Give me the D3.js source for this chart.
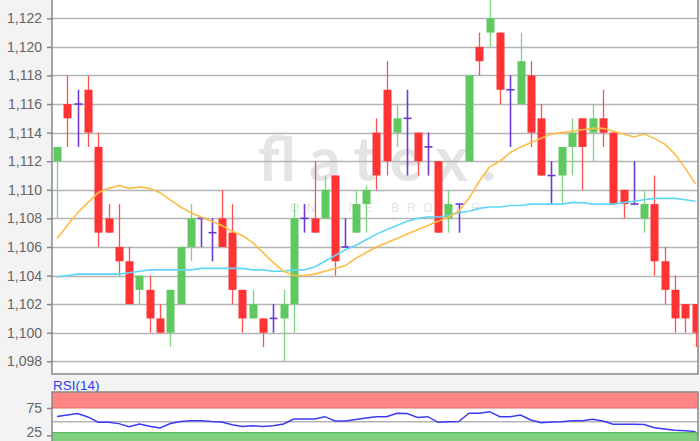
<!DOCTYPE html>
<html><head><meta charset="utf-8">
<script src="https://cdn.jsdelivr.net/npm/d3@7"></script>
<style>html,body{margin:0;padding:0;background:#f3f3f3;}svg{display:block;font-family:"Liberation Sans",Arial,sans-serif;}</style>
</head><body>
<svg id="c" width="700" height="441"></svg>
<script>
// ---- data ----
const opens  = [1.112,1.116,1.116,1.117,1.113,1.108,1.106,1.105,1.103,1.103,1.101,1.100,1.102,1.106,1.108,1.107,1.108,1.107,1.103,1.101,1.101,1.101,1.101,1.102,1.108,1.108,1.108,1.111,1.106,1.107,1.109,1.114,1.117,1.114,1.115,1.114,1.113,1.112,1.108,1.109,1.112,1.120,1.121,1.121,1.117,1.116,1.118,1.115,1.111,1.111,1.113,1.115,1.114,1.115,1.114,1.110,1.109,1.108,1.109,1.105,1.103,1.102,1.102];
const highs  = [1.113,1.118,1.117,1.118,1.114,1.109,1.109,1.106,1.104,1.104,1.102,1.103,1.106,1.109,1.108,1.108,1.110,1.109,1.103,1.103,1.101,1.102,1.103,1.109,1.109,1.112,1.111,1.111,1.108,1.110,1.1103,1.115,1.119,1.116,1.117,1.114,1.114,1.112,1.110,1.109,1.118,1.121,1.1235,1.121,1.118,1.121,1.119,1.116,1.112,1.113,1.115,1.115,1.116,1.117,1.114,1.110,1.112,1.110,1.111,1.106,1.104,1.102,1.102];
const lows   = [1.108,1.113,1.113,1.113,1.106,1.107,1.104,1.102,1.102,1.100,1.100,1.099,1.102,1.105,1.106,1.105,1.106,1.102,1.100,1.101,1.099,1.100,1.098,1.100,1.107,1.107,1.108,1.104,1.106,1.107,1.107,1.110,1.111,1.113,1.111,1.111,1.111,1.107,1.107,1.107,1.112,1.118,1.120,1.116,1.113,1.116,1.113,1.111,1.109,1.109,1.111,1.110,1.112,1.113,1.109,1.108,1.109,1.107,1.104,1.102,1.100,1.100,1.099];
const closes = [1.113,1.115,1.116,1.114,1.107,1.107,1.105,1.102,1.104,1.101,1.100,1.103,1.106,1.108,1.108,1.107,1.106,1.103,1.101,1.102,1.100,1.101,1.102,1.108,1.108,1.107,1.110,1.105,1.106,1.109,1.110,1.111,1.112,1.115,1.115,1.112,1.113,1.107,1.109,1.109,1.118,1.119,1.122,1.117,1.117,1.119,1.114,1.111,1.111,1.113,1.114,1.113,1.115,1.114,1.109,1.109,1.109,1.109,1.105,1.103,1.101,1.101,1.100];
const maShort = [1.1066,1.1075,1.1084,1.1091,1.1098,1.1101,1.1103,1.1101,1.1102,1.1101,1.1098,1.1093,1.1088,1.1084,1.1081,1.1078,1.1075,1.1071,1.1068,1.1063,1.1056,1.1049,1.1043,1.1040,1.1040,1.1041,1.1043,1.1045,1.1047,1.1052,1.1056,1.1060,1.1063,1.1066,1.1069,1.1072,1.1075,1.1078,1.1081,1.1085,1.1094,1.1106,1.1116,1.1120,1.1126,1.1130,1.1133,1.1136,1.1139,1.1140,1.1141,1.1142,1.1143,1.1143,1.1141,1.1139,1.1137,1.1139,1.1136,1.1132,1.1125,1.1115,1.1104];
const maLong = [1.1039,1.1040,1.1041,1.1041,1.1041,1.1041,1.1041,1.1042,1.1043,1.1044,1.1044,1.1044,1.1044,1.1044,1.1045,1.1045,1.1045,1.1045,1.1045,1.1044,1.1044,1.1043,1.1043,1.1044,1.1044,1.1046,1.1050,1.1054,1.1058,1.1061,1.1065,1.1069,1.1072,1.1075,1.1078,1.1080,1.1081,1.1081,1.1082,1.1084,1.1085,1.1087,1.1088,1.1088,1.1089,1.1089,1.1090,1.1090,1.1090,1.1090,1.1091,1.1091,1.1090,1.1090,1.1090,1.1091,1.1092,1.1093,1.1094,1.1094,1.1094,1.1093,1.1092];
const rsi = [59.5,62.2,65,58.6,49,49,46.4,40.9,45.8,41.6,38.5,46.7,50.4,51.8,51.8,50.4,49.5,44.5,41.2,42.7,41.2,42.7,45.8,54.9,54.9,54.9,59.1,51.3,51.3,54,56.8,59.1,59.1,65.3,65,57.7,59.1,49,50,50.4,65.3,65.3,68.2,59.1,59.1,62.2,53.1,48.2,49.5,50,51.8,51.8,54.4,51.3,45.3,45.3,45.3,44.9,39,36.7,34.5,33.6,31.9];
const priceTicks = [1.098,1.100,1.102,1.104,1.106,1.108,1.110,1.112,1.114,1.116,1.118,1.120,1.122];
const rsiTicks = [25,75];
const rsiLabel = "RSI(14)";
const watermark = "flatex.";
const watermarkSub = "ONLINE BROKER";

// ---- layout ----
const svg = d3.select("#c");
const L = 52, R = 698, T = 0, B = 374;
const rT = 392, rB = 441;
const x = d3.scaleLinear().domain([0, opens.length - 1]).range([57, 695.6]);
const y = d3.scaleLinear().domain([1.098, 1.122]).range([361.3, 18.3]);
const yr = d3.scaleLinear().domain([25, 75]).range([435.4, 408]);
const loc = d3.formatLocale({decimal: ",", thousands: ".", grouping: [3], currency: ["", "€"]});
const fmt = loc.format(".3f");

svg.append("defs").append("clipPath").attr("id","pc").append("rect").attr("x",L).attr("y",T).attr("width",R-L).attr("height",B-T);
svg.select("defs").append("clipPath").attr("id","rc").append("rect").attr("x",L).attr("y",rT).attr("width",R-L).attr("height",rB-rT);

// main plot background
svg.append("rect").attr("x",L).attr("y",T).attr("width",R-L).attr("height",B-T).attr("fill","#fff");

// watermark
svg.append("text").attr("x",258).attr("y",181).attr("font-family","Lato, 'Open Sans', sans-serif").attr("font-weight",700).attr("font-size",62)
  .attr("fill","#e4e4e4").attr("textLength",238).attr("lengthAdjust","spacing").text(watermark);
svg.append("text").attr("x",290).attr("y",212).attr("font-size",12).attr("fill","#e4e4e4")
  .attr("textLength",190).attr("lengthAdjust","spacing").text(watermarkSub);

// grid
svg.append("g").selectAll("line").data(priceTicks).join("line")
  .attr("x1",L).attr("x2",R).attr("y1",d=>Math.round(y(d))+0.5).attr("y2",d=>Math.round(y(d))+0.5)
  .attr("stroke","#b4b4b4").attr("stroke-width",1.6);

// axis
const ax = svg.append("g").attr("transform",`translate(${L},0)`)
  .call(d3.axisLeft(y).tickValues(priceTicks).tickFormat(fmt).tickSize(5).tickPadding(5));
ax.select(".domain").remove();
ax.selectAll(".tick line").attr("stroke","#888").attr("stroke-width",1.5);
ax.selectAll(".tick text").attr("font-size",14).attr("fill","#666").attr("font-family","'Liberation Sans',Arial,sans-serif");

// candles
const data = opens.map((o,i)=>({i,o,h:highs[i],l:lows[i],c:closes[i]}));
const kind = d => d.c > d.o ? "up" : (d.c < d.o ? "down" : "doji");
const bodyCol = {up:"#5fc95f", down:"#ff3333", doji:"#6a3ad6"};
const wickCol = {up:"#7fd27f", down:"#ff5050", doji:"#6a3ad6"};
const cg = svg.append("g").attr("clip-path","url(#pc)");
const bw = 8;
cg.selectAll("line.w").data(data).join("line").attr("class","w")
  .attr("x1",d=>Math.round(x(d.i))+0.5).attr("x2",d=>Math.round(x(d.i))+0.5)
  .attr("y1",d=>y(d.h)).attr("y2",d=>y(d.l))
  .attr("stroke",d=>wickCol[kind(d)]).attr("stroke-width",d=>kind(d)==="doji"?1.6:1.3);
cg.selectAll("rect.b").data(data.filter(d=>kind(d)!=="doji")).join("rect").attr("class","b")
  .attr("x",d=>Math.round(x(d.i))-bw/2+0.5).attr("width",bw)
  .attr("y",d=>y(Math.max(d.o,d.c))).attr("height",d=>Math.abs(y(d.o)-y(d.c)))
  .attr("fill",d=>bodyCol[kind(d)]);
cg.selectAll("line.t").data(data.filter(d=>kind(d)==="doji")).join("line").attr("class","t")
  .attr("x1",d=>Math.round(x(d.i))-bw/2+0.5).attr("x2",d=>Math.round(x(d.i))+bw/2+0.5)
  .attr("y1",d=>y(d.o)).attr("y2",d=>y(d.o))
  .attr("stroke",bodyCol.doji).attr("stroke-width",1.6);

// moving averages
const line = d3.line().x((d,i)=>x(i)).y(d=>y(d));
cg.append("path").datum(maLong).attr("d",line).attr("fill","none").attr("stroke","#5fd6f6").attr("stroke-width",1.6);
cg.append("path").datum(maShort).attr("d",line).attr("fill","none").attr("stroke","#fdbd45").attr("stroke-width",1.6);

// main frame
svg.append("path").attr("d",`M${L},${T}V${B}H${R}V${T}`).attr("fill","none").attr("stroke","#888").attr("stroke-width",1.5);

// RSI panel
svg.append("text").attr("x",53).attr("y",390).attr("font-size",13.5).attr("fill","#2a3cf0").text(rsiLabel);
svg.append("rect").attr("x",L).attr("y",rT).attr("width",R-L).attr("height",rB-rT).attr("fill","#fff");
svg.append("rect").attr("x",L).attr("y",rT).attr("width",R-L).attr("height",yr(75)-rT).attr("fill","#ff8585");
svg.append("line").attr("x1",L).attr("x2",R).attr("y1",yr(75)).attr("y2",yr(75)).attr("stroke","#e86a6a").attr("stroke-width",1.2);
svg.append("rect").attr("x",L).attr("y",yr(30)).attr("width",R-L).attr("height",rB-yr(30)).attr("fill","#80d080");
svg.append("line").attr("x1",L).attr("x2",R).attr("y1",yr(30)).attr("y2",yr(30)).attr("stroke","#5cb85c").attr("stroke-width",1.2);
svg.append("line").attr("x1",L).attr("x2",R).attr("y1",yr(50)).attr("y2",yr(50)).attr("stroke","#b4b4b4").attr("stroke-width",1.6);
const rg = svg.append("g").attr("clip-path","url(#rc)");
rg.append("path").datum(rsi).attr("d",d3.line().x((d,i)=>x(i)).y(d=>yr(d))).attr("fill","none").attr("stroke","#3a3af5").attr("stroke-width",1.4);
svg.append("path").attr("d",`M${L},${rB}V${rT}H${R}V${rB}`).attr("fill","none").attr("stroke","#888").attr("stroke-width",1.5);
const rax = svg.append("g").attr("transform",`translate(${L},0)`)
  .call(d3.axisLeft(yr).tickValues(rsiTicks).tickFormat(d3.format("d")).tickSize(5).tickPadding(5));
rax.select(".domain").remove();
rax.selectAll(".tick line").attr("stroke","#888").attr("stroke-width",1.5);
rax.selectAll(".tick text").attr("font-size",14).attr("fill","#666").attr("font-family","'Liberation Sans',Arial,sans-serif");
// keep the lowest label fully inside the picture
rax.selectAll(".tick text").filter(d=>d===25).attr("dy","0.1em");
</script>
</body></html>
